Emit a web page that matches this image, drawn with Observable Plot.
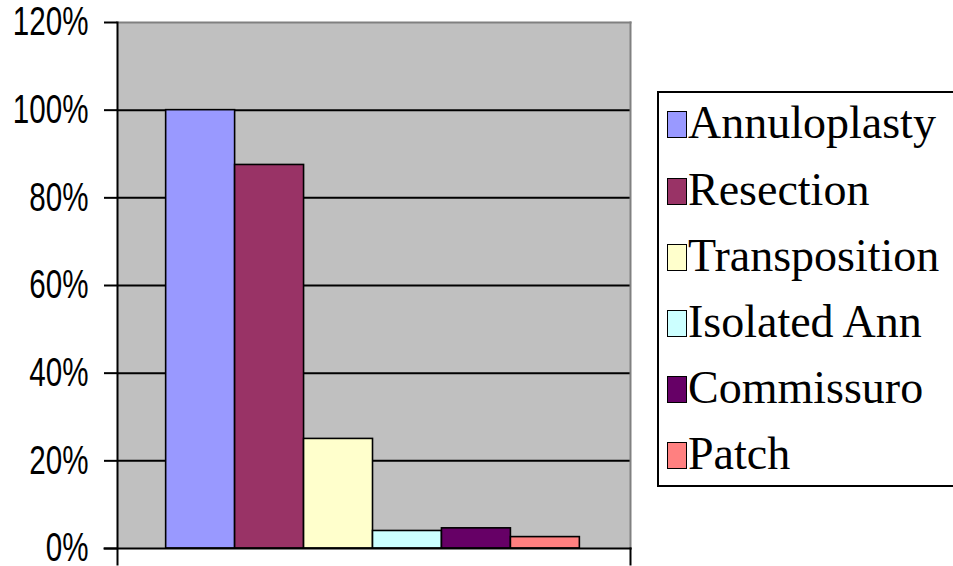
<!DOCTYPE html>
<html>
<head>
<meta charset="utf-8">
<script src="https://cdn.jsdelivr.net/npm/d3@7"></script>
<script src="https://cdn.jsdelivr.net/npm/@observablehq/plot@0.6"></script>
<style>
  html, body { margin: 0; padding: 0; background: #ffffff; overflow: hidden; }
  #wrap { position: relative; width: 953px; height: 566px; overflow: hidden; }
  #chart svg { display: block; }
  #legend {
    position: absolute; left: 657px; top: 91px; width: 320px; height: 392px;
    border: 2px solid #000; background: #fff; box-sizing: content-box;
    font-family: "Liberation Serif", "Times New Roman", serif; font-size: 46px; color: #000;
  }
  #legend .rows { position: relative; top: -2.6px; }
  #legend .item { height: 66.2px; line-height: 66.2px; white-space: nowrap; }
  #legend .sw {
    display: inline-block; width: 20px; height: 27px; box-sizing: border-box;
    border: 1.6px solid #000; margin-left: 8px; margin-right: 1px; vertical-align: baseline;
  }
</style>
</head>
<body>
<div id="wrap">
  <div id="chart"></div>
  <div id="legend"><div class="rows"></div></div>
</div>
<script>
// ---- data ----
const series = ["Annuloplasty", "Resection", "Transposition", "Isolated Ann", "Commissuro", "Patch"];
const values = [1.00, 0.875, 0.25, 0.04, 0.046, 0.026];
const colors = ["#9999FF", "#993366", "#FFFFCC", "#CCFFFF", "#660066", "#FF8080"];
const yTicks = [0, 0.2, 0.4, 0.6, 0.8, 1.0, 1.2];
const gridLines = [0.2, 0.4, 0.6, 0.8, 1.0];

const data = series.map((s, i) => ({series: s, value: values[i]}));

const chart = Plot.plot({
  width: 953,
  height: 566,
  marginLeft: 117,
  marginRight: 323,
  marginTop: 22,
  marginBottom: 18,
  style: {background: "transparent", overflow: "visible"},
  x: {domain: series, paddingInner: 0, paddingOuter: 0.72, align: 0.49, round: false, axis: null},
  y: {domain: [0, 1.2], axis: null},
  color: {domain: series, range: colors},
  marks: [
    Plot.frame({fill: "#c0c0c0", stroke: null}),
    Plot.ruleY(gridLines, {stroke: "#000", strokeWidth: 2}),
    Plot.barY(data, {x: "series", y: "value", fill: "series", stroke: "#000", strokeWidth: 1.6}),
    Plot.frame({anchor: "top", stroke: "#808080", strokeWidth: 2}),
    Plot.frame({anchor: "right", stroke: "#808080", strokeWidth: 2}),
    Plot.frame({anchor: "right", stroke: "#000", strokeWidth: 2, insetTop: 526, insetBottom: -16}),
    Plot.frame({anchor: "left", stroke: "#000", strokeWidth: 2, insetBottom: -16}),
    Plot.frame({anchor: "bottom", stroke: "#000", strokeWidth: 2, insetLeft: -13}),
    Plot.axisY({
      ticks: yTicks,
      tickFormat: d => Math.round(d * 100) + "%",
      tickSize: 13,
      tickPadding: 16,
      strokeWidth: 2,
      stroke: "#000",
      fill: "#000",
      fontSize: 40,
      fontFamily: "'Liberation Sans', Arial, sans-serif",
      label: null
    })
  ]
});
document.getElementById("chart").appendChild(chart);

// condense tick labels horizontally (Arial Narrow look), anchored at their right edge
chart.querySelectorAll("g[aria-label='y-axis tick label'] text").forEach(t => {
  const xa = t.getAttribute("x");
  const x = xa !== null && !isNaN(+xa) ? +xa : 0;
  if (xa !== null && !isNaN(+xa)) t.removeAttribute("x");
  const tr = t.getAttribute("transform") || "";
  t.setAttribute("transform", `${tr} translate(${x},0) scale(0.74,1)`);
});

// legend
const rows = document.querySelector("#legend .rows");
series.forEach((s, i) => {
  const item = document.createElement("div");
  item.className = "item";
  const sw = document.createElement("span");
  sw.className = "sw";
  sw.style.background = colors[i];
  item.appendChild(sw);
  item.appendChild(document.createTextNode(s));
  rows.appendChild(item);
});
</script>
</body>
</html>
